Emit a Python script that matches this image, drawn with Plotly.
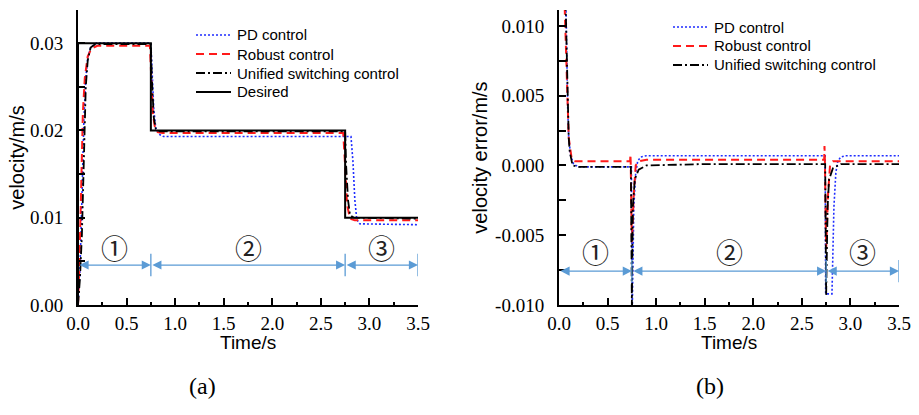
import plotly.graph_objects as go

# ---------------- data ----------------
# (a) velocity
t_des = [0, 0, 0.75, 0.75, 2.75, 2.75, 3.5]
v_des = [0, 0.03, 0.03, 0.02, 0.02, 0.01, 0.01]

t_pd = [0, 0.02, 0.04, 0.06, 0.08, 0.10, 0.13, 0.19, 0.75, 0.765, 0.78, 0.80, 0.83, 0.88,
        2.81, 2.83, 2.85, 2.87, 2.90, 3.5]
v_pd = [0, 0.004, 0.012, 0.021, 0.026, 0.0283, 0.0295, 0.0300, 0.0300, 0.026, 0.0225, 0.0203, 0.0196, 0.0193,
        0.0193, 0.0165, 0.0120, 0.0098, 0.0093, 0.0092]

t_rb = [0, 0.01, 0.03, 0.05, 0.07, 0.10, 0.14, 0.20, 0.74, 0.75, 0.77, 0.79, 0.82, 0.87,
        2.73, 2.75, 2.77, 2.80, 2.85, 3.5]
v_rb = [0, 0.003, 0.012, 0.022, 0.026, 0.0285, 0.0294, 0.0297, 0.0297, 0.027, 0.022, 0.0205, 0.0198, 0.0197,
        0.0197, 0.016, 0.0115, 0.0099, 0.0097, 0.0097]

t_us = [0, 0.02, 0.04, 0.06, 0.08, 0.10, 0.13, 0.18, 0.75, 0.76, 0.78, 0.80, 0.84,
        2.75, 2.76, 2.78, 2.80, 2.84, 3.5]
v_us = [0, 0.003, 0.008, 0.018, 0.025, 0.028, 0.0295, 0.0299, 0.0299, 0.026, 0.0215, 0.0202, 0.0199,
        0.0199, 0.016, 0.012, 0.0103, 0.0100, 0.0099]

# (b) velocity error
te_pd = [0, 0.05, 0.07, 0.08, 0.09, 0.10, 0.12, 0.15, 0.20, 0.745, 0.75, 0.755, 0.77, 0.79, 0.81, 0.84, 0.90,
         2.74, 2.745, 2.81, 2.83, 2.85, 2.87, 2.90, 2.95, 3.5]
e_pd = [0.03, 0.02, 0.012, 0.007, 0.004, 0.002, 0.0007, 0.0001, -0.0001, -0.0001, -0.010, -0.010, -0.003,
        -0.0005, 0.0003, 0.0006, 0.0007,
        0.0007, -0.0092, -0.0092, -0.003, -0.0005, 0.0003, 0.0006, 0.0007, 0.0007]

te_rb = [0, 0.04, 0.06, 0.075, 0.085, 0.10, 0.13, 0.16, 0.20, 0.732, 0.735, 0.738, 0.75, 0.77, 0.79, 0.82, 0.90,
         2.73, 2.733, 2.737, 2.75, 2.77, 2.79, 2.82, 2.90, 3.5]
e_rb = [0.03, 0.02, 0.011, 0.007, 0.005, 0.002, 0.0005, 0.0003, 0.0003, 0.0003, 0.0008, 0.0003, -0.0055,
        -0.002, 0.0, 0.0003, 0.0004,
        0.0004, 0.0014, 0.0004, -0.006, -0.002, 0.0, 0.0003, 0.0003, 0.0003]

te_us = [0, 0.05, 0.07, 0.085, 0.10, 0.11, 0.14, 0.20, 0.74, 0.75, 0.76, 0.78, 0.82, 0.90, 1.5,
         2.74, 2.75, 2.765, 2.78, 2.82, 2.90, 3.5]
e_us = [0.03, 0.02, 0.011, 0.005, 0.002, 0.001, 0.0, -0.0001, -0.0001, -0.010, -0.003, -0.001, -0.0003,
        0.0, 0.0001,
        0.0001, -0.0093, -0.003, -0.001, -0.0002, 0.0001, 0.0001]

phase_bounds = [0, 0.75, 2.75, 3.5]
phase_labels = ["①", "②", "③"]

x_ticks = [0, 0.5, 1.0, 1.5, 2.0, 2.5, 3.0, 3.5]
x_ticktext = ["0.0", "0.5", "1.0", "1.5", "2.0", "2.5", "3.0", "3.5"]
ya_ticks = [0, 0.01, 0.02, 0.03]
ya_ticktext = ["0.00", "0.01", "0.02", "0.03"]
yb_ticks = [-0.010, -0.005, 0.0, 0.005, 0.010]
yb_ticktext = ["-0.010", "-0.005", "0.000", "0.005", "0.010"]

# ---------------- styles ----------------
BLUE = "#1f2dff"
RED = "#ff1a1a"
BLACK = "#000000"
ARROW = "#5b9bd5"
SERIF = "Liberation Serif, Times New Roman, serif"
SANS = "Liberation Sans, Arial, sans-serif"
W, H = 919, 415

styles = {
    "PD control": dict(color=BLUE, width=1.6, dash="2px,2px"),
    "Robust control": dict(color=RED, width=2, dash="8px,5px"),
    "Unified switching control": dict(color=BLACK, width=1.8, dash="9px,3px,2px,3px"),
    "Desired": dict(color=BLACK, width=2, dash="solid"),
}

fig = go.Figure()

left = [("PD control", t_pd, v_pd), ("Robust control", t_rb, v_rb),
        ("Unified switching control", t_us, v_us), ("Desired", t_des, v_des)]
for name, t, v in left:
    fig.add_trace(go.Scatter(x=t, y=v, mode="lines", name=name, line=styles[name],
                             xaxis="x", yaxis="y", showlegend=False))

right = [("PD control", te_pd, e_pd), ("Robust control", te_rb, e_rb),
         ("Unified switching control", te_us, e_us)]
for name, t, v in right:
    fig.add_trace(go.Scatter(x=t, y=v, mode="lines", name=name, line=styles[name],
                             xaxis="x2", yaxis="y2", showlegend=False))


def px_x(p):
    return p / W


def px_y(p):
    return 1 - p / H


common_x = dict(range=[0, 3.5], showline=True, linecolor="black", linewidth=2,
                ticks="inside", ticklen=7, tickwidth=2, tickcolor="black",
                tickvals=x_ticks, ticktext=x_ticktext,
                minor=dict(tickvals=[0.25, 0.75, 1.25, 1.75, 2.25, 2.75, 3.25],
                           ticks="inside", ticklen=3, tickwidth=2, tickcolor="black"),
                tickfont=dict(family=SERIF, size=19, color="black"),
                showgrid=False, zeroline=False, automargin=False, ticklabelstandoff=0)
common_y = dict(showline=True, linecolor="black", linewidth=2,
                ticks="inside", ticklen=7, tickwidth=2, tickcolor="black",
                tickfont=dict(family=SERIF, size=19, color="black"),
                showgrid=False, zeroline=False, automargin=False, ticklabelstandoff=9)

fig.update_layout(
    width=W, height=H, template="none",
    paper_bgcolor="white", plot_bgcolor="white",
    margin=dict(l=0, r=0, t=0, b=0),
    showlegend=False,
    xaxis=dict(common_x, domain=[px_x(78), px_x(418)], anchor="y"),
    yaxis=dict(common_y, domain=[px_y(305), px_y(10)], anchor="x", range=[0, 0.0338],
               tickvals=ya_ticks, ticktext=ya_ticktext,
               minor=dict(tickvals=[0.005, 0.015, 0.025], ticks="inside", ticklen=7,
                          tickwidth=2, tickcolor="black"),
               title=dict(text="velocity/m/s", font=dict(family=SANS, size=20, color="black"),
                          standoff=0)),
    xaxis2=dict(common_x, domain=[px_x(559), px_x(899)], anchor="y2"),
    yaxis2=dict(common_y, domain=[px_y(305), px_y(10)], anchor="x2", range=[-0.010, 0.01114],
                tickvals=yb_ticks, ticktext=yb_ticktext,
                minor=dict(tickvals=[-0.0075, -0.0025, 0.0025, 0.0075], ticks="inside", ticklen=7,
                           tickwidth=2, tickcolor="black"),
                title=dict(text="velocity error/m/s", font=dict(family=SANS, size=20, color="black"),
                           standoff=2)),
)

# x-axis titles (placed just under the tick labels)
for dom in (fig.layout.xaxis.domain, fig.layout.xaxis2.domain):
    fig.add_annotation(x=(dom[0] + dom[1]) / 2, y=px_y(342), xref="paper", yref="paper", text="Time/s",
                       xanchor="center", yanchor="middle", showarrow=False,
                       font=dict(family=SANS, size=19, color="black"))

# legends (drawn as line samples + text, one per panel)
legend_specs = [([n for n, _, _ in left], 196, 231, 235, 35), ([n for n, _, _ in right], 673, 708, 712, 27)]
for names, lx0, lx1, tx, y0 in legend_specs:
    for i, name in enumerate(names):
        yy = px_y(y0 + 19 * i)
        st = styles[name]
        fig.add_shape(type="line", xref="paper", yref="paper", x0=px_x(lx0), x1=px_x(lx1), y0=yy, y1=yy,
                      line=dict(color=st["color"], width=st["width"], dash=st["dash"]))
        fig.add_annotation(x=px_x(tx), y=yy, xref="paper", yref="paper", text=name, showarrow=False,
                           xanchor="left", yanchor="middle",
                           font=dict(family=SANS, size=15, color="black"))

# phase arrows, separators and circled labels
panels = [("x", "y", 0.00458, 0.0013, 0.0066), ("x2", "y2", -0.00757, 0.0008, -0.0062)]
for xr, yr, ay, half, ly in panels:
    for i in range(3):
        a, b = phase_bounds[i], phase_bounds[i + 1]
        fig.add_annotation(x=b, y=ay, ax=a, ay=ay, xref=xr, yref=yr, axref=xr, ayref=yr,
                           text="", showarrow=True, arrowside="end+start", arrowhead=2,
                           startarrowhead=2, arrowsize=1.4, startarrowsize=1.4, arrowwidth=1.3,
                           arrowcolor=ARROW, standoff=0, startstandoff=0)
        fig.add_annotation(x=(a + b) / 2, y=ly, xref=xr, yref=yr, text=phase_labels[i],
                           showarrow=False,
                           font=dict(family="Noto Sans CJK SC, DejaVu Sans", size=27, color="#222"))
    for b in phase_bounds[1:]:
        fig.add_shape(type="line", x0=b, x1=b, y0=ay - half, y1=ay + half, xref=xr, yref=yr,
                      line=dict(color=ARROW, width=1.3))

fig.add_annotation(x=px_x(202), y=px_y(386), xref="paper", yref="paper", text="(a)",
                   xanchor="center", yanchor="middle",
                   showarrow=False, font=dict(family=SERIF, size=24, color="black"))
fig.add_annotation(x=px_x(710), y=px_y(386), xref="paper", yref="paper", text="(b)",
                   xanchor="center", yanchor="middle",
                   showarrow=False, font=dict(family=SERIF, size=24, color="black"))

fig.write_html("out.html", config={"displayModeBar": False},
               post_script="document.body.style.margin='0';document.body.style.overflow='hidden';")
